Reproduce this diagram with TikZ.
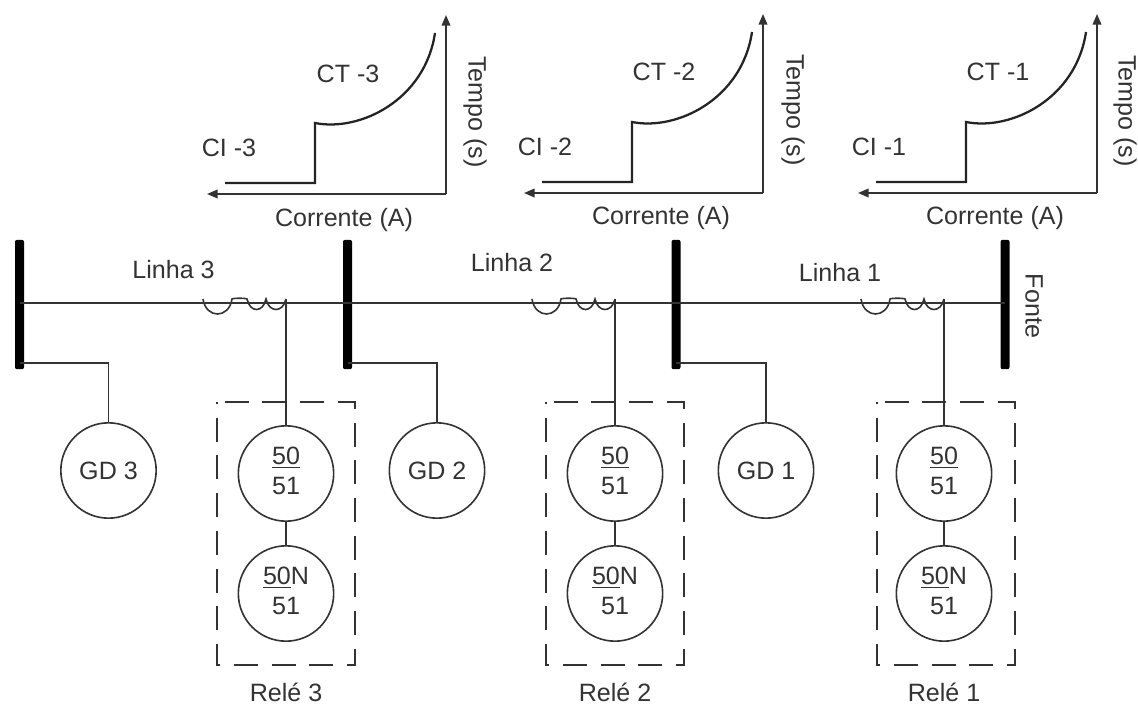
\documentclass[tikz,border=0pt]{standalone}
\usepackage{fontspec}
\setmainfont{Liberation Sans}
\usetikzlibrary{arrows.meta}
\definecolor{ink}{gray}{0.2}
\tikzset{
  lbl/.style={text=ink,font=\fontsize{18.8}{22}\selectfont,inner sep=0pt},
  wire/.style={draw=ink,line width=1.25pt},
  axisline/.style={draw=ink,line width=1.25pt,-{Triangle[length=8pt,width=6.5pt]}},
  curveline/.style={draw=ink!70!black,line width=1.7pt},
  busbar/.style={fill=black,draw=none,rounded corners=1.5pt,minimum width=6.75pt,minimum height=97pt,inner sep=0pt},
  relaycirc/.style={circle,draw=ink,line width=1.2pt,minimum size=71.5pt,inner sep=0pt,text=ink,font=\fontsize{18.8}{22}\selectfont,align=center},
  relaybox/.style={draw=ink,line width=1.25pt,dash pattern=on 18pt off 10.3pt,dash phase=16.5pt},
}
\newcommand{\ovr}[2]{\begin{tabular}{@{}c@{}}\underline{#1}#2\end{tabular}}
\begin{document}
\begin{tikzpicture}[x=0.75pt,y=-0.75pt]
\useasboundingbox (0,0) rectangle (1138,707);
\fill[white] (0,0) rectangle (1138,707);

% curves
\foreach \dx/\n/\dy in {0/3/0, 317/2/1, 651/1/1}{
  \begin{scope}[xshift=\dx*0.75pt,yshift=\dy*0.75pt]
    \coordinate (o\n) at (446,194);
    \coordinate (t\n) at (446,15);
    \coordinate (l\n) at (207,194);
    \draw[axisline] (o\n) -- (t\n);
    \draw[axisline] (o\n) -- (l\n);
    \draw[curveline] (225,183) -- (315,183) -- (315,123)
      .. controls (360,132) and (425,100) .. (435,33);
  \end{scope}
}
\node[lbl] (cl3) at (229,148) {CI -3};
\node[lbl] (ct3) at (348,74) {CT -3};
\node[lbl] (cl2) at (545,147) {CI -2};
\node[lbl] (ct2) at (664,72) {CT -2};
\node[lbl] (cl1) at (879,147) {CI -1};
\node[lbl] (ct1) at (998,72) {CT -1};
\node[lbl] (ca3) at (344,220) {Corrente (A)};
\node[lbl] (ca2) at (661,218) {Corrente (A)};
\node[lbl] (ca1) at (995,218) {Corrente (A)};
\node[lbl,rotate=-90] (tp3) at (475,112) {Tempo (s)};
\node[lbl,rotate=-90] (tp2) at (793,110) {Tempo (s)};
\node[lbl,rotate=-90] (tp1) at (1125,111) {Tempo (s)};

% buses
\node[busbar] (b4) at (19.5,304.5) {};
\node[busbar] (b3) at (347.5,304.5) {};
\node[busbar] (b2) at (676,304.5) {};
\node[busbar] (b1) at (1005,304.5) {};

\node[lbl] (li3) at (173.5,270) {Linha 3};
\node[lbl] (li2) at (512,263) {Linha 2};
\node[lbl] (li1) at (840,273) {Linha 1};
\node[lbl,rotate=-90] (fo) at (1034,306) {Fonte};

% CTs and main line
\foreach \x/\n/\a/\b in {286/3/b4/b3, 615/2/b3/b2, 944/1/b2/b1}{
  \coordinate (tap\n) at (\x,303);
  \coordinate (tapt\n) at (\x,299);
  \draw[wire] (\a.center |- tap\n) -- (\b.center |- tap\n);
  \draw[draw=ink,line width=1.2pt] (\x-83,299)
     .. controls (\x-80,319) and (\x-57,319) .. (\x-54,299)
     .. controls (\x-53,298) and (\x-40,298) .. (\x-39,299)
     .. controls (\x-36,313) and (\x-23,313) .. (\x-20,299)
     .. controls (\x-17,313) and (\x-3,313) .. (\x,299);
}

% generators
\foreach \x/\n/\a in {108.5/3/b4, 437/2/b3, 766/1/b2}{
  \node[relaycirc] (gd\n) at (\x,470.5) {GD \n};
  \coordinate (gc\n) at (\a.center |- 0,363);
  \draw[wire] (gc\n) -| (gd\n.north);
}

% relays
\foreach \x/\n/\bl in {286/3/217, 615/2/546, 944/1/877}{
  \node[relaycirc] (r\n a) at (\x,473.5) {\ovr{50}{\\[0pt]51}};
  \node[relaycirc] (r\n b) at (\x,593.5) {\ovr{50}{N\\[0pt]51}};
  \draw[wire] (tapt\n) -- (r\n a.north);
  \draw[wire] (r\n a.south) -- (r\n b.north);
  \coordinate (bx\n) at (\bl,402);
  \coordinate (by\n) at (\bl+138,665);
  \draw[relaybox] (bx\n) rectangle (by\n);
  \node[lbl] (rl\n) at (\x,692) {Relé \n};
}
\end{tikzpicture}
\end{document}
